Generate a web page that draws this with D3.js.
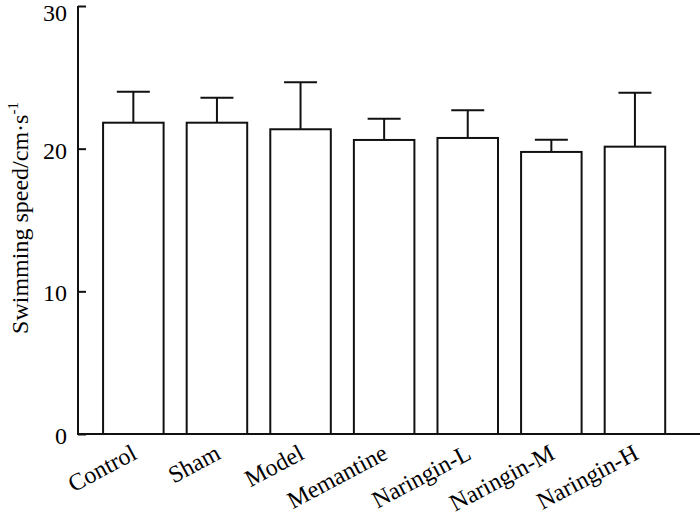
<!DOCTYPE html>
<html>
<head>
<meta charset="utf-8">
<script src="https://cdn.jsdelivr.net/npm/d3@7"></script>
<style>
  body { margin: 0; background: white; }
  svg { display: block; }
  text { font-family: "Liberation Serif", "Times New Roman", serif; fill: black; }
</style>
</head>
<body>
<div id="chart"></div>
<script>
// groups og værdier
const groups = ["Control", "Sham", "Model", "Memantine", "Naringin-L", "Naringin-M", "Naringin-H"];
const means = [21.82, 21.82, 21.36, 20.61, 20.75, 19.77, 20.14];
const errors = [2.17, 1.75, 3.29, 1.49, 1.94, 0.86, 3.78];
const yTicks = [0, 10, 20, 30];

const width = 700, height = 518;
const x0 = 78, yBottom = 434, yTop = 6;
const fs = 24;

const svg = d3.select("#chart")
    .append("svg")
    .attr("width", width)
    .attr("height", height);

// scales
const step = 83.6;
const xScale = d3.scaleBand()
    .domain(groups)
    .range([x0, x0 + step * (groups.length - 0.276 + 0.6)])
    .paddingInner(0.276)
    .paddingOuter(0.3);

const yScale = d3.scaleLinear()
    .domain([0, 30])
    .range([yBottom, yTop]);

// søjler
svg.selectAll("rect.bar")
    .data(groups)
    .enter()
    .append("rect")
    .attr("class", "bar")
    .attr("x", d => xScale(d))
    .attr("y", (d, i) => yScale(means[i]))
    .attr("width", xScale.bandwidth())
    .attr("height", (d, i) => yBottom - yScale(means[i]))
    .attr("fill", "white")
    .attr("stroke", "#111")
    .attr("stroke-width", 2);

// error bars (kun opad)
const capW = 33;
svg.selectAll("line.err")
    .data(groups)
    .enter()
    .append("line")
    .attr("class", "err")
    .attr("x1", d => xScale(d) + xScale.bandwidth() / 2)
    .attr("x2", d => xScale(d) + xScale.bandwidth() / 2)
    .attr("y1", (d, i) => yScale(means[i]))
    .attr("y2", (d, i) => yScale(means[i] + errors[i]))
    .attr("stroke", "#111")
    .attr("stroke-width", 2);

svg.selectAll("line.cap")
    .data(groups)
    .enter()
    .append("line")
    .attr("class", "cap")
    .attr("x1", d => xScale(d) + xScale.bandwidth() / 2 - capW / 2)
    .attr("x2", d => xScale(d) + xScale.bandwidth() / 2 + capW / 2)
    .attr("y1", (d, i) => yScale(means[i] + errors[i]))
    .attr("y2", (d, i) => yScale(means[i] + errors[i]))
    .attr("stroke", "#111")
    .attr("stroke-width", 2);

// y-akse med ticks indad
const yAxis = d3.axisRight(yScale)
    .tickValues(yTicks)
    .tickSize(8)
    .tickFormat("");

const yg = svg.append("g")
    .attr("transform", `translate(${x0},0)`)
    .call(yAxis);
yg.select(".domain").remove();
yg.selectAll(".tick line").attr("stroke", "#111").attr("stroke-width", 2);

svg.append("line")
    .attr("x1", x0).attr("x2", x0)
    .attr("y1", yTop).attr("y2", yBottom + 1)
    .attr("stroke", "#111")
    .attr("stroke-width", 2);

svg.selectAll("text.ytick")
    .data(yTicks)
    .enter()
    .append("text")
    .attr("class", "ytick")
    .attr("x", 67)
    .attr("y", d => Math.max(yScale(d) + 10, 21))
    .attr("text-anchor", "end")
    .attr("font-size", fs)
    .text(d => d);

// x-akse linje
svg.append("line")
    .attr("x1", x0 - 1).attr("x2", width)
    .attr("y1", yBottom).attr("y2", yBottom)
    .attr("stroke", "#111")
    .attr("stroke-width", 2);

// x labels, drejet
svg.selectAll("text.xlab")
    .data(groups)
    .enter()
    .append("text")
    .attr("class", "xlab")
    .attr("text-anchor", "end")
    .attr("font-size", fs)
    .attr("transform", d => `translate(${xScale(d) + xScale.bandwidth() / 2 + 5},${yBottom + 24}) rotate(-28)`)
    .text(d => d);

// y label
const ylab = svg.append("text")
    .attr("text-anchor", "middle")
    .attr("font-size", fs)
    .attr("transform", "translate(28,218) rotate(-90)");
ylab.append("tspan").text("Swimming speed/cm·s");
ylab.append("tspan").attr("dy", -10).attr("font-size", 15).text("-1");
</script>
</body>
</html>
